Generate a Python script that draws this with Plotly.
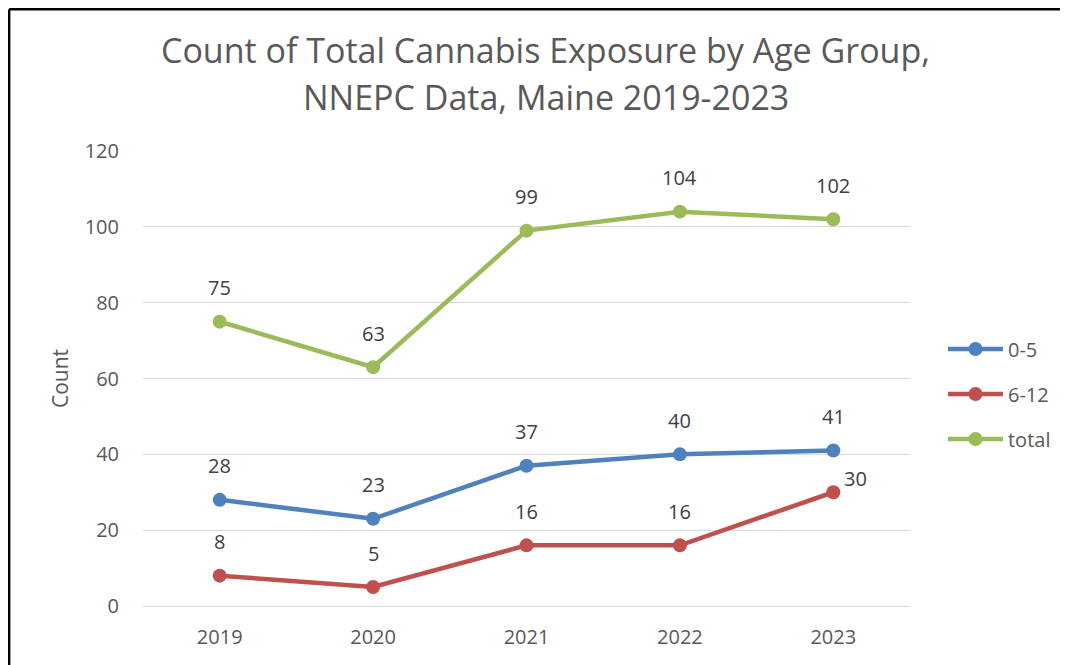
import plotly.graph_objects as go

years = ["2019", "2020", "2021", "2022", "2023"]
age_0_5 = [28, 23, 37, 40, 41]
age_6_12 = [8, 5, 16, 16, 30]
total = [75, 63, 99, 104, 102]
series_names = ["0-5", "6-12", "total"]
series_colors = ["#4F81BD", "#C0504D", "#9BBB59"]
title_lines = ["Count of Total Cannabis Exposure by Age Group,", "NNEPC Data, Maine 2019-2023"]

FONT = "Open Sans"
W, H = 1060, 657
L, R, T, B = 135, 156, 143, 59
PW, PH = W - L - R, H - T - B

fig = go.Figure()
for name, vals, col in zip(series_names, [age_0_5, age_6_12, total], series_colors):
    fig.add_trace(go.Scatter(
        x=years, y=vals, name=name, mode="lines+markers",
        line=dict(color=col, width=4.5),
        marker=dict(color=col, size=14),
        legendgroup=name,
    ))
    for i, yv in enumerate(vals):
        dx, dy = 0, 34
        if name == "6-12" and i == len(vals) - 1:
            dx, dy = 22, 14
        fig.add_annotation(x=i, y=yv, xref="x", yref="y", text=str(yv), showarrow=False,
                           xshift=dx, yshift=dy, yanchor="middle", xanchor="center",
                           font=dict(family=FONT, size=20, color="#404040"))

# title as two centred lines
for line_text, fig_y in zip(title_lines, [42, 89]):
    fig.add_annotation(xref="paper", yref="paper", x=(539 - L) / PW, y=(H - B - fig_y) / PH,
                       text=line_text, showarrow=False, xanchor="center", yanchor="middle",
                       font=dict(family=FONT, size=34, color="#595959"))

fig.update_layout(
    width=W, height=H,
    paper_bgcolor="white", plot_bgcolor="white",
    margin=dict(l=L, r=R, t=T, b=B),
    font=dict(family=FONT, color="#595959"),
    legend=dict(x=1.043, xanchor="left", y=0.466, yanchor="middle",
                font=dict(family=FONT, size=20, color="#595959"),
                itemwidth=55, tracegroupgap=16, bgcolor="rgba(0,0,0,0)"),
    showlegend=True,
)
fig.update_xaxes(type="category", range=[-0.5, 4.5], showgrid=False, showline=False,
                 ticks="", tickfont=dict(family=FONT, size=20, color="#595959"),
                 ticklabelstandoff=17)
fig.update_yaxes(range=[0, 120], dtick=20, showgrid=True, gridcolor="#D9D9D9", gridwidth=1.3,
                 zeroline=True, zerolinecolor="#D9D9D9", zerolinewidth=1.3,
                 showline=False, ticks="",
                 tickfont=dict(family=FONT, size=20, color="#595959"),
                 ticklabelstandoff=23,
                 title=dict(text="Count", font=dict(family=FONT, size=21, color="#595959"), standoff=10))
# chart border (top and left)
top_y = (H - 1.2 - B) / PH
left_x = (0.8 - L) / PW
fig.add_shape(type="line", xref="paper", yref="paper", x0=left_x, x1=(W - L) / PW, y0=top_y, y1=top_y,
              line=dict(color="black", width=2.5))
fig.add_shape(type="line", xref="paper", yref="paper", x0=left_x, x1=left_x, y0=top_y, y1=-B / PH,
              line=dict(color="black", width=2.5))
fig.write_html("out.html")
